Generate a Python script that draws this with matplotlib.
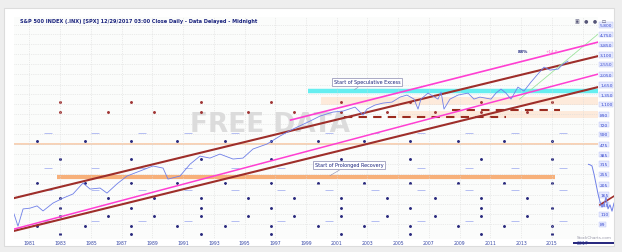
import matplotlib.pyplot as plt
import matplotlib.patches as mpatches
from matplotlib.ticker import NullLocator, FixedLocator, FixedFormatter

# S&P 500 daily close (log scale)
years = [1980.0, 1980.26, 1980.59, 1981.04, 1981.5, 1981.89, 1982.54, 1983.19, 1983.84,
         1984.49, 1984.95, 1985.6, 1986.05, 1986.7, 1987.35, 1988.2, 1989.04, 1989.7,
         1990.02, 1990.8, 1991.46, 1992.1, 1992.75, 1993.4, 1994.25, 1994.9, 1995.55,
         1996.46, 1997.31, 1998.15, 1999.26, 1999.91, 2000.76, 2001.41, 2002.19, 2002.71,
         2002.97, 2003.49, 2004.01, 2004.6, 2005.12, 2005.57, 2006.03, 2006.29, 2006.48,
         2006.94, 2007.59, 2007.79, 2007.98, 2008.37, 2008.89, 2009.54, 2009.93, 2010.32,
         2011.04, 2011.36, 2011.69, 2012.01, 2012.34, 2012.79, 2013.18, 2013.64, 2014.03,
         2014.49, 2014.88, 2015.4, 2015.73, 2016.05]
spx = [110, 85, 122, 124, 130, 117, 138, 153, 167,
       210, 185, 189, 170, 206, 243, 270, 300, 287,
       228, 243, 312, 369, 354, 385, 347, 354, 428,
       475, 562, 650, 768, 853, 928, 948, 1030, 872,
       988, 1075, 1120, 1144, 1270, 1325, 1218, 988, 1218,
       1381, 1218, 1411, 988, 1218, 1325, 1381, 1218, 1270,
       1218, 1381, 1502, 1381, 1218, 1566, 1440, 1739, 2013,
       2380, 2235, 2284, 2534, 2699]

# trend channel lines
channel_years = [1980, 2018]
upper_brown = [153, 2996]
lower_brown = [77, 1566]
lower_pink = [80, 2055]
upper_pink_years = [1998.0, 2018]
upper_pink = [785, 4016]
green_years = [2012.9, 2018]
green_line = [1218, 4748]

# horizontal levels
cyan_level = 1440
orange_thin = 475
orange_thick = 238
dashed_levels = [835, 967]
dashed_spans = [(2001.5, 2012.0), (2008.5, 2015.5)]

# right axis labels
right_ticks = [5800, 4750, 3850, 3100, 2550, 2050, 1650, 1350, 1100, 890, 720,
               590, 475, 385, 315, 255, 205, 165, 135, 110, 89]
x_ticks = [1981, 1983, 1985, 1987, 1989, 1991, 1993, 1995, 1997, 1999, 2001,
           2003, 2005, 2007, 2009, 2011, 2013, 2015, 2017]

# event marker rows
dot_years = [1981.5, 1983.0, 1984.6, 1986.1, 1987.6, 1989.1, 1990.6, 1992.2, 1993.7,
             1995.2, 1996.7, 1998.2, 1999.8, 2001.3, 2002.8, 2004.3, 2005.8, 2007.4,
             2008.9, 2010.4, 2011.9, 2013.4, 2015.0]
dot_levels = [1144, 928, 506, 347, 210, 153, 124, 105, 85, 72]
dash_levels = [600, 290, 180, 95]

# right-edge inset (recent move)
inset_days = [0, 2, 4, 6, 8, 10, 12, 14, 16, 18, 20, 22, 24, 26]
inset_vals = [91, 90, 88, 74, 57, 40, 26, 17, 22, 34, 14, 21, 10, 24]

fig = plt.figure(figsize=(6.22, 2.53), dpi=100, facecolor='#eeeeee')
fig.patches.append(mpatches.Rectangle((0.0064, 0.0237), 0.9807, 0.9407,
                                      transform=fig.transFigure, facecolor='white',
                                      edgecolor='#dcdcdc', lw=0.8, zorder=-5))

ax = fig.add_axes([0.0225, 0.0514, 0.9389, 0.8775])
ax.set_facecolor('#fbfcfb')
ax.set_yscale('log')
ax.set_xlim(1980, 2018)
ax.set_ylim(65, 6800)
for s in ax.spines.values():
    s.set_visible(False)

ax.yaxis.set_minor_locator(NullLocator())
ax.yaxis.set_major_locator(FixedLocator(right_ticks))
ax.yaxis.set_major_formatter(FixedFormatter([f'{v:,}' for v in right_ticks]))
ax.yaxis.tick_right()
ax.tick_params(axis='y', length=0, pad=1.5, labelsize=3.2, labelcolor='#3344cc')
for lab in ax.get_yticklabels():
    lab.set_bbox(dict(boxstyle='square,pad=0.15', facecolor='#e6eaff', edgecolor='#b4bcf0', lw=0.3))
ax.set_xticks(x_ticks)
ax.set_xticklabels([str(y) for y in x_ticks])
ax.tick_params(axis='x', length=0, pad=0.8, labelsize=3.3, labelcolor='#3a4aa8')
ax.grid(True, color='#dadada', linestyle=':', lw=0.5)

# watermark
ax.text(0.438, 0.518, 'FREE DATA', transform=ax.transAxes, fontsize=19, fontweight='bold',
        color='#dcdcdc', ha='center', va='center', zorder=0.5)

# bands
ax.fill_between([2000, 2018], 1075, 1270, color='#fdeadb', lw=0, zorder=0.6)
ax.fill_between([2005, 2018], 820, 948, color='#fdeadb', lw=0, zorder=0.6)
ax.hlines(orange_thin, 1980, 2018, color='#f9c6a0', lw=1.1, zorder=1)
ax.hlines(orange_thick, 1982.8, 2015.2, color='#f7b07a', lw=3, zorder=1)
ax.hlines(cyan_level, 1999.1, 2018, color='#66eef0', lw=3.2, zorder=1)
for lvl, (x0, x1) in zip(dashed_levels, dashed_spans):
    ax.hlines(lvl, x0, x1, color='#9b2b1f', lw=1.5, linestyles=(0, (4, 3)), zorder=1.2)

# marker rows
for i, lvl in enumerate(dot_levels):
    xs = dot_years[i % 2::2] if i % 3 else dot_years[1::3]
    col = '#a03535' if i < 2 else '#2a2a7e'
    ax.plot(xs, [lvl] * len(xs), ls='none', marker='o', ms=1.1, color=col, zorder=1.5)
for lvl in dash_levels:
    xs = [y + 0.7 for y in dot_years[::2]]
    ax.plot(xs, [lvl] * len(xs), ls='none', marker='_', ms=6, mew=0.7, color='#b4bef2', zorder=1.4)

# channels
ax.plot(channel_years, upper_brown, color='#9e2e2a', lw=1.5, zorder=2)
ax.plot(channel_years, lower_brown, color='#9e2e2a', lw=1.5, zorder=2)
ax.plot(channel_years, lower_pink, color='#ff3fd2', lw=1.1, zorder=2.1)
ax.plot(upper_pink_years, upper_pink, color='#ff3fd2', lw=1.2, zorder=2.1)
ax.plot(green_years, green_line, color='#9ee49e', lw=0.6, zorder=2)

# price
ax.plot(years, spx, color='#6f7fe8', lw=0.6, zorder=3)

# annotations
box = dict(boxstyle='square,pad=0.3', facecolor='white', edgecolor='#8a8ab0', lw=0.5)
ax.annotate('Start of Speculative Excess', xy=(2002.0, 1440), xytext=(2002.97, 1757),
            fontsize=3.5, color='#1a237e', ha='center', va='center', bbox=box,
            arrowprops=dict(arrowstyle='-', color='#8a8ab0', lw=0.4), zorder=4)
ax.annotate('Start of Prolonged Recovery', xy=(2000.4, 238), xytext=(2001.8, 309),
            fontsize=3.5, color='#1a237e', ha='center', va='center', bbox=box,
            arrowprops=dict(arrowstyle='-', color='#8a8ab0', lw=0.4), zorder=4)
ax.text(2012.8, 3329, '88%', fontsize=3.2, color='#1a237e', fontweight='bold', va='center')
ax.text(2014.6, 3329, '+14.0', fontsize=3.0, color='#ff66cc', va='center')

# inset at right edge
axi = fig.add_axes([588 / 622, 35 / 253, 26 / 622, 58 / 253])
axi.set_xlim(0, 26)
axi.set_ylim(0, 100)
axi.axis('off')
axi.patch.set_alpha(0)
axi.plot([12, 26], [21, 36], color='#9e2e2a', lw=1.2)
axi.plot(inset_days, inset_vals, color='#6f7fe8', lw=0.7)

# header / footer
fig.text(20 / 622, 1 - 21 / 253,
         'S&P 500 INDEX (.INX) [SPX] 12/29/2017 03:00 Close Daily - Data Delayed - Midnight',
         fontsize=3.6, color='#1a237e', fontweight='bold', va='center')
fig.text(575 / 622, 1 - 22 / 253, '\u25a3   \u25cf   \u25cf   \u25ad', fontsize=3.5,
         color='#555577', va='center')
fig.text(594 / 622, 1 - 238 / 253, 'StockCharts.com', fontsize=3, color='#9999aa',
         ha='center', va='center')
fig.patches.append(mpatches.Rectangle((573 / 622, 1 - 245 / 253), 41 / 622, 2 / 253,
                                      transform=fig.transFigure, facecolor='#2a2a80', lw=0))

fig.savefig('out.png', dpi=100, facecolor=fig.get_facecolor())
